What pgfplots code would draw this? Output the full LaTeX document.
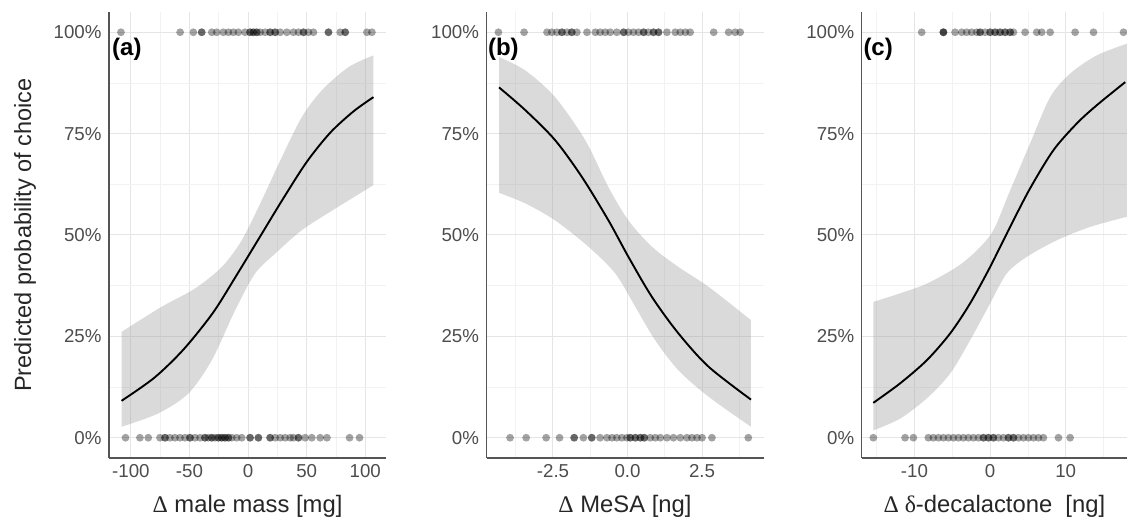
\documentclass[border=0pt]{standalone}
\usepackage{fontspec}
\setmainfont{Liberation Sans}
\newfontfamily\greek{Liberation Serif}
\usepackage{pgfplots}
\usepackage{pgfplotstable}
\pgfplotsset{compat=1.18}
\usepgfplotslibrary{fillbetween}

\definecolor{gridmaj}{RGB}{229,229,229}
\definecolor{gridmin}{RGB}{242,242,242}
\definecolor{axisgray}{RGB}{85,85,85}
\definecolor{ticktext}{RGB}{77,77,77}
\definecolor{ribbon}{RGB}{150,150,150}

\tikzset{tag/.style={anchor=west, inner sep=0pt, font=\bfseries\fontsize{24}{27}\selectfont}}
\pgfplotsset{
  panel/.style={
    scale only axis, width=277pt, height=446pt,
    anchor=south west,
    ymin=-0.05, ymax=1.05,
    ytick={0,0.25,0.5,0.75,1},
    yticklabels={0\%,25\%,50\%,75\%,100\%},
    minor ytick={0.125,0.375,0.625,0.875},
    axis x line*=bottom, axis y line*=left,
    axis line style={axisgray, line width=1.3pt},
    x axis line style={-}, y axis line style={-},
    major tick length=0pt, minor tick length=0pt,
    grid=both,
    major grid style={gridmaj, line width=1pt},
    minor grid style={gridmin, line width=0.7pt},
    tick label style={font=\fontsize{18.7}{22}\selectfont, text=ticktext},
    yticklabel style={xshift=-4pt},
    xticklabel style={yshift=-2.5pt},
    xlabel style={at={(axis description cs:0.5,-0.123)}, anchor=base,
      font=\fontsize{23.8}{27}\selectfont, text=black!85},
  },
  fitline/.style={black, line width=1.9pt, smooth},
  edge/.style={draw=none, smooth, forget plot},
  band/.style={draw=none, fill=ribbon, fill opacity=0.35},
  dots/.style={only marks, mark=*, mark size=3.9pt,
    mark options={fill=black, fill opacity=0.36, draw opacity=0}},
}

% panel (a): male mass
\pgfplotstableread{
x p
-108 0.091
-80 0.148
-55 0.218
-30 0.308
-10 0.400
10 0.495
30 0.590
50 0.680
70 0.752
90 0.805
107 0.840
}\fitA
\pgfplotstableread{
x p
-108 0.261
-73.8 0.323
-45.3 0.368
-22.5 0.421
-5.4 0.487
11.7 0.586
28.8 0.692
45.9 0.791
63 0.857
85.7 0.914
107 0.943
}\hiA
\pgfplotstableread{
x p
-108 0.027
-76.6 0.060
-51 0.109
-31 0.191
-11.1 0.314
6 0.405
23.1 0.454
45.9 0.512
74.4 0.565
107 0.623
}\loA
\pgfplotstableread{
x y
-108.5 1
-58 1
-46.7 1
-39.6 1
-39.6 1
-31 1
-26.8 1
-21.1 1
-16.8 1
-12.6 1
-8.3 1
-2.6 1
1.7 1
1.7 1
4.5 1
4.5 1
7.4 1
7.4 1
10.3 1
14.5 1
18.8 1
18.8 1
23.1 1
23.1 1
27.4 1
33.1 1
38.7 1
43 1
47.3 1
47.3 1
51.5 1
55.8 1
68.6 1
68.6 1
78.6 1
82.9 1
82.9 1
101.4 1
105.7 1
-104.6 0
-92.3 0
-85.2 0
-75.2 0
-70.9 0
-70.9 0
-66.7 0
-62.4 0
-58.1 0
-53.8 0
-49.6 0
-49.6 0
-45.3 0
-41 0
-36.8 0
-36.8 0
-33.9 0
-31 0
-31 0
-28.2 0
-25.4 0
-25.4 0
-22.5 0
-22.5 0
-19.7 0
-19.7 0
-16.8 0
-16.8 0
-13.9 0
-9.7 0
-5.4 0
1.7 0
1.7 0
8.8 0
8.8 0
18.8 0
18.8 0
23.1 0
27.4 0
31.6 0
35.9 0
38.7 0
43 0
43 0
48.7 0
54.4 0
61.5 0
67.3 0
86.6 0
95.1 0
}\ptsA

% panel (b): MeSA
\pgfplotstableread{
x p
-4.31 0.864
-3.43 0.808
-2.43 0.734
-1.53 0.643
-0.64 0.536
0.03 0.446
0.82 0.347
1.71 0.257
2.72 0.175
4.14 0.094
}\fitB
\pgfplotstableread{
x p
-4.31 0.939
-3.43 0.906
-2.43 0.840
-1.42 0.734
-0.64 0.618
0.03 0.536
0.82 0.471
1.71 0.421
2.72 0.372
4.14 0.290
}\hiB
\pgfplotstableread{
x p
-4.31 0.604
-3.43 0.578
-2.43 0.536
-1.31 0.471
-0.41 0.405
0.26 0.323
0.93 0.240
1.71 0.166
2.72 0.101
4.14 0.027
}\loB
\pgfplotstableread{
x y
-4.33 1
-3.47 1
-2.70 1
-2.54 1
-2.37 1
-2.20 1
-2.20 1
-2.03 1
-1.87 1
-1.87 1
-1.70 1
-1.36 1
-1.08 1
-0.92 1
-0.75 1
-0.58 1
-0.36 1
-0.13 1
-0.13 1
0.03 1
0.20 1
0.37 1
0.54 1
0.54 1
0.70 1
0.87 1
0.87 1
1.04 1
1.04 1
1.32 1
1.60 1
1.77 1
1.94 1
2.10 1
2.89 1
3.39 1
3.61 1
3.78 1
-3.94 0
-3.40 0
-2.73 0
-2.28 0
-1.79 0
-1.79 0
-1.48 0
-1.20 0
-1.20 0
-0.92 0
-0.69 0
-0.52 0
-0.36 0
-0.19 0
-0.02 0
0.09 0
0.09 0
0.26 0
0.26 0
0.43 0
0.43 0
0.56 0
0.56 0
0.76 0
0.93 0
1.10 0
1.32 0
1.54 0
1.77 0
1.99 0
2.16 0
2.33 0
2.50 0
2.83 0
4.05 0
}\ptsB

% panel (c): delta-decalactone
\pgfplotstableread{
x p
-15.44 0.086
-11.9 0.134
-8.37 0.191
-5.29 0.257
-2.65 0.331
0 0.421
2.65 0.520
5.29 0.615
8.37 0.709
11.46 0.775
14.1 0.820
17.86 0.877
}\fitC
\pgfplotstableread{
x p
-15.44 0.335
-11.9 0.356
-8.37 0.380
-4.41 0.421
-1.76 0.462
0.44 0.512
2.65 0.610
5.29 0.726
7.94 0.840
10.58 0.898
14.1 0.943
18.1 0.972
}\hiC
\pgfplotstableread{
x p
-15.44 0.018
-11.9 0.047
-8.37 0.097
-5.29 0.158
-2.65 0.240
0 0.331
2.2 0.405
4.85 0.446
8.82 0.487
13.23 0.520
18.1 0.545
}\loC
\pgfplotstableread{
x y
-9.04 1
-6.17 1
-6.17 1
-6.17 1
-4.63 1
-3.75 1
-3.09 1
-2.43 1
-1.76 1
-1.32 1
-1.32 1
-0.66 1
0 1
0 1
0.66 1
0.66 1
1.32 1
1.32 1
1.98 1
1.98 1
2.65 1
2.65 1
3.09 1
4.63 1
6.17 1
6.83 1
7.94 1
11.24 1
13.67 1
17.64 1
-15.43 0
-11.24 0
-10.14 0
-8.16 0
-7.50 0
-6.83 0
-6.17 0
-5.51 0
-4.85 0
-4.19 0
-3.53 0
-2.87 0
-2.20 0
-1.54 0
-0.88 0
-0.88 0
-0.22 0
-0.22 0
0.44 0
0.44 0
1.10 0
1.76 0
2.43 0
2.43 0
3.09 0
3.09 0
3.75 0
4.41 0
5.07 0
5.73 0
6.39 0
7.05 0
9.04 0
10.58 0
}\ptsC

\begin{document}
\begin{tikzpicture}

% (a)
\begin{axis}[panel, at={(109pt,61pt)},
  xmin=-118.7, xmax=117.7,
  xtick={-100,-50,0,50,100}, xticklabels={-100,-50,0,50,100},
  minor xtick={-75,-25,25,75},
  xlabel={{\greek Δ} male mass [mg]}]
\addplot[edge, name path=upA] table[x=x,y=p] {\hiA};
\addplot[edge, name path=lowA] table[x=x,y=p] {\loA};
\addplot[band] fill between[of=upA and lowA];
\addplot[fitline] table[x=x,y=p] {\fitA};
\addplot[dots] table[x=x,y=y] {\ptsA};
\node[tag] at (rel axis cs:0.011,0.917) {(a)};
\end{axis}

% (b)
\begin{axis}[panel, at={(486.5pt,61pt)},
  xmin=-4.73, xmax=4.56,
  xtick={-2.5,0,2.5}, xticklabels={-2.5,0.0,2.5},
  minor xtick={-3.75,-1.25,1.25,3.75},
  xlabel={{\greek Δ} MeSA [ng]}]
\addplot[edge, name path=upB] table[x=x,y=p] {\hiB};
\addplot[edge, name path=lowB] table[x=x,y=p] {\loB};
\addplot[band] fill between[of=upB and lowB];
\addplot[fitline] table[x=x,y=p] {\fitB};
\addplot[dots] table[x=x,y=y] {\ptsB};
\node[tag] at (rel axis cs:0.005,0.917) {(b)};
\end{axis}

% (c)
\begin{axis}[panel, at={(861.7pt,61pt)}, width=265.3pt,
  xmin=-16.97, xmax=18.1,
  xtick={-10,0,10}, xticklabels={-10,0,10},
  minor xtick={-15,-5,5,15},
  xlabel={{\greek Δ δ}-decalactone\ \ [ng]}]
\addplot[edge, name path=upC] table[x=x,y=p] {\hiC};
\addplot[edge, name path=lowC] table[x=x,y=p] {\loC};
\addplot[band] fill between[of=upC and lowC];
\addplot[fitline] table[x=x,y=p] {\fitC};
\addplot[dots] table[x=x,y=y] {\ptsC};
\node[tag] at (rel axis cs:0.006,0.917) {(c)};
\end{axis}

\node[rotate=90, font=\fontsize{23.5}{27}\selectfont, text=black!85] at (25pt,284pt) {Predicted probability of choice};
\pgfresetboundingbox
\useasboundingbox (0pt,0pt) rectangle (1127pt,519pt);
\end{tikzpicture}
\end{document}
